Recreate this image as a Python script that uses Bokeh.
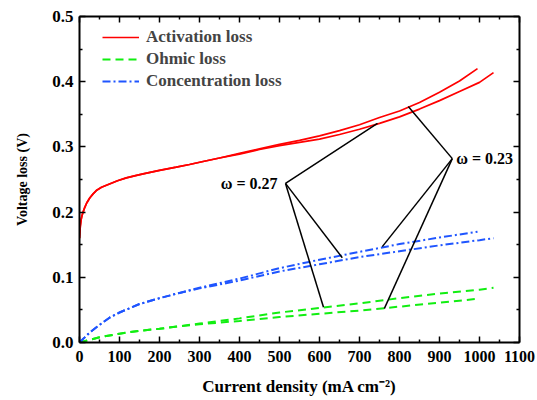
from bokeh.plotting import figure
from bokeh.models import Range1d, LinearAxis, FixedTicker, Legend, LegendItem, CustomJSTickFormatter
from bokeh.core.properties import value
from bokeh.embed import file_html
from bokeh.resources import INLINE

# ---------------- data ----------------
x_w023 = [0, 1, 2, 4, 6, 9, 13, 18, 26, 34, 42, 55, 75, 95, 117, 140, 159, 200, 242, 275, 309, 350, 400,
          450, 500, 550, 600, 650, 700, 750, 800, 850, 900, 950, 995]
act_w023 = [0.160, 0.170, 0.178, 0.188, 0.194, 0.200, 0.207, 0.214, 0.222, 0.228, 0.233, 0.238, 0.243,
            0.248, 0.2525, 0.256, 0.2587, 0.264, 0.269, 0.273, 0.2776, 0.283, 0.290, 0.297, 0.304,
            0.310, 0.317, 0.325, 0.334, 0.345, 0.355, 0.368, 0.384, 0.401, 0.420]
x_w027 = [0, 1, 2, 4, 6, 9, 13, 18, 26, 34, 42, 55, 75, 95, 117, 140, 159, 200, 242, 275, 309, 350, 400,
          450, 500, 550, 600, 650, 700, 750, 800, 850, 900, 950, 1000, 1035]
act_w027 = [0.160, 0.170, 0.178, 0.188, 0.194, 0.200, 0.207, 0.214, 0.222, 0.228, 0.233, 0.238, 0.243,
            0.248, 0.2525, 0.256, 0.2587, 0.264, 0.269, 0.273, 0.2776, 0.283, 0.289, 0.296, 0.302,
            0.307, 0.312, 0.319, 0.327, 0.336, 0.346, 0.358, 0.371, 0.385, 0.399, 0.414]

xc_w023 = [0, 25, 50, 75, 100, 150, 200, 250, 300, 400, 500, 600, 700, 800, 900, 995]
conc_w023 = [0.0, 0.015, 0.027, 0.038, 0.046, 0.059, 0.068, 0.076, 0.084, 0.098, 0.114, 0.127, 0.139, 0.151, 0.161, 0.170]
xc_w027 = [0, 25, 50, 75, 100, 150, 200, 250, 300, 400, 500, 600, 700, 800, 900, 1000, 1035]
conc_w027 = [0.0, 0.015, 0.027, 0.038, 0.046, 0.059, 0.068, 0.076, 0.083, 0.095, 0.109, 0.120, 0.131, 0.140, 0.149, 0.157, 0.160]

xo_w023 = [0, 25, 50, 100, 150, 200, 250, 300, 400, 500, 600, 700, 800, 900, 995]
ohm_w023 = [0.0, 0.004, 0.008, 0.0135, 0.018, 0.021, 0.025, 0.028, 0.033, 0.039, 0.044, 0.049, 0.055, 0.061, 0.067]
xo_w027 = [0, 25, 50, 100, 150, 200, 250, 300, 400, 500, 600, 700, 800, 900, 1000, 1035]
ohm_w027 = [0.0, 0.004, 0.008, 0.0135, 0.018, 0.021, 0.025, 0.029, 0.037, 0.046, 0.053, 0.060, 0.068, 0.075, 0.081, 0.084]

# annotation pointers: label anchor -> targets on the curves
w027_anchor = (515, 0.244)
w027_targets_x = [745, 657, 610]
w027_targets_y = [0.336, 0.130, 0.054]
w023_anchor = (932, 0.282)
w023_targets_x = [822, 757, 762]
w023_targets_y = [0.362, 0.147, 0.052]

x_ticks = list(range(0, 1101, 100))
x_minor = list(range(50, 1100, 100))
y_ticks = [0.0, 0.1, 0.2, 0.3, 0.4, 0.5]
y_minor = [0.05, 0.15, 0.25, 0.35, 0.45]

series_labels = ["Activation loss", "Ohmic loss", "Concentration loss"]
x_title = "Current density (mA cm\u207b\u00b2)"
y_title = "Voltage loss (V)"

# ---------------- figure ----------------
FONT = "Liberation Serif"
RED = "#FF0000"
GREEN = "#11EE11"
BLUE = "#1F55FF"

p = figure(width=537, height=400, output_backend="svg", toolbar_location=None,
           x_range=Range1d(0, 1100), y_range=Range1d(0, 0.5),
           min_border_left=79, min_border_right=18, min_border_top=16, min_border_bottom=58)
p.grid.visible = False
p.outline_line_color = None
p.background_fill_color = "white"
p.border_fill_color = "white"

def style_axis(ax, ticks, minor, size):
    ax.ticker = FixedTicker(ticks=ticks, minor_ticks=minor)
    ax.axis_line_width = 2
    ax.axis_line_color = "black"
    ax.major_tick_in = 6
    ax.major_tick_out = 0
    ax.minor_tick_in = 3
    ax.minor_tick_out = 0
    ax.major_tick_line_width = 1.5
    ax.minor_tick_line_width = 1.5
    ax.major_label_text_font = FONT
    ax.major_label_text_font_style = "bold"
    ax.major_label_text_font_size = size
    ax.major_label_text_color = "black"
    ax.axis_label_text_font = FONT
    ax.axis_label_text_font_style = "bold"
    ax.axis_label_text_color = "black"

xa = p.xaxis[0]
style_axis(xa, x_ticks, x_minor, "16px")
xa.major_label_standoff = 8
xa.axis_label = x_title
xa.axis_label_text_font_size = "17px"
xa.axis_label_standoff = 12

ya = p.yaxis[0]
style_axis(ya, y_ticks, y_minor, "17px")
ya.major_label_standoff = 6
ya.major_label_overrides = {t: f"{t:.1f}" for t in y_ticks}
ya.axis_label = y_title
ya.axis_label_text_font_size = "14px"
ya.axis_label_standoff = 19

blank = CustomJSTickFormatter(code="return ''")
top = LinearAxis(formatter=blank)
style_axis(top, x_ticks, x_minor, "16px")
top.major_label_standoff = 0
p.add_layout(top, "above")
right = LinearAxis(formatter=CustomJSTickFormatter(code="return ''"))
style_axis(right, y_ticks, y_minor, "17px")
right.major_label_standoff = 0
p.add_layout(right, "right")

# ---------------- curves ----------------
r_act = p.line(x_w023, act_w023, line_color=RED, line_width=1.7)
p.line(x_w027, act_w027, line_color=RED, line_width=1.7)
r_ohm = p.line(xo_w023, ohm_w023, line_color=GREEN, line_width=2, line_dash="8 5")
p.line(xo_w027, ohm_w027, line_color=GREEN, line_width=2, line_dash="8 5")
r_conc = p.line(xc_w023, conc_w023, line_color=BLUE, line_width=2, line_dash="8 3 2 3")
p.line(xc_w027, conc_w027, line_color=BLUE, line_width=2, line_dash="8 3 2 3")

# ---------------- pointers ----------------
p.segment(x0=[w027_anchor[0]] * 3, y0=[w027_anchor[1]] * 3, x1=w027_targets_x, y1=w027_targets_y,
          line_color="black", line_width=1.5)
p.segment(x0=[w023_anchor[0]] * 3, y0=[w023_anchor[1]] * 3, x1=w023_targets_x, y1=w023_targets_y,
          line_color="black", line_width=1.5)
p.text(x=[w027_anchor[0]], y=[w027_anchor[1]], text=["\u03c9 = 0.27"], text_align="right",
       text_baseline="middle", x_offset=-8, text_font=value(FONT), text_font_style="bold",
       text_font_size="16px", text_color="black")
p.text(x=[w023_anchor[0]], y=[w023_anchor[1]], text=["\u03c9 = 0.23"], text_align="left",
       text_baseline="middle", x_offset=4, text_font=value(FONT), text_font_style="bold",
       text_font_size="16px", text_color="black")

# ---------------- legend ----------------
legend = Legend(items=[LegendItem(label=series_labels[0], renderers=[r_act]),
                       LegendItem(label=series_labels[1], renderers=[r_ohm]),
                       LegendItem(label=series_labels[2], renderers=[r_conc])],
                location=(23, 251), border_line_color=None, background_fill_alpha=0,
                label_text_font=FONT, label_text_font_style="bold", label_text_font_size="17px",
                glyph_width=37, glyph_height=20, label_height=20, spacing=2, padding=0, margin=0,
                label_standoff=7)
p.add_layout(legend)

open("out.html", "w").write(file_html(p, INLINE))
